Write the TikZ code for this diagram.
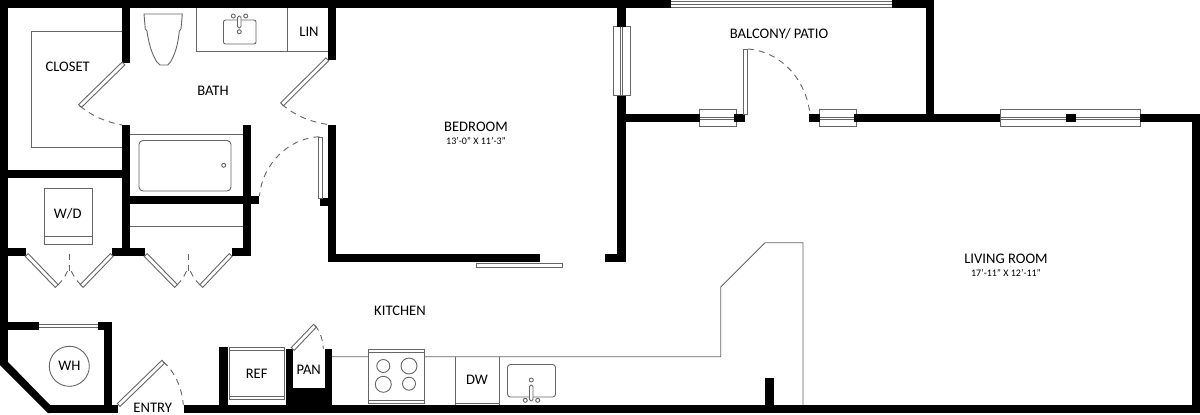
\documentclass[tikz,border=0pt]{standalone}
\usepackage{fontspec}
\usetikzlibrary{calc}
\setmainfont{Carlito}
\newcommand{\wl}[4]{\fill[black] (#1,#2) rectangle (#3,#4);}
\newcommand{\leaf}[4]{\draw[thin line,fill=white] ($(#1,#2)!2pt!90:(#3,#4)$) -- ($(#1,#2)!2pt!-90:(#3,#4)$) -- ($(#3,#4)!2pt!90:(#1,#2)$) -- ($(#3,#4)!2pt!-90:(#1,#2)$) -- cycle;}
\tikzset{
  thin line/.style={draw=linegray,line width=.9pt},
  swing/.style={draw=linegray,line width=.9pt,dash pattern=on 6pt off 5pt},
  lab/.style={font=\fontsize{14.6}{15}\selectfont,text=black,inner sep=0pt},
  dim/.style={font=\fontsize{10}{11}\selectfont,text=black,inner sep=0pt},
}
\definecolor{linegray}{gray}{0.40}
\begin{document}
\begin{tikzpicture}[x=1pt,y=-1pt]
\useasboundingbox (0,0) rectangle (1200,415);
\fill[white] (0,0) rectangle (1200,415);
% ---- thin fixtures ----
\draw[thin line] (122,31.5) -- (31.5,31.5) -- (31.5,147) -- (122,147);
\draw[thin line] (196.5,8) -- (196.5,51.5) -- (328,51.5) (287,8) -- (287,51.5);
\draw[thin line,rounded corners=2pt] (223.5,20) rectangle (256,44);
\draw[thin line,rounded corners=1.5pt,fill=white] (237.5,16) rectangle (241,28);
\draw[thin line] (233.3,16) circle (2) (245.7,16) circle (2) (239.3,31.7) circle (2);
% toilet
\draw[thin line] (144,14) -- (182.3,14) -- (181,29) -- (179.3,31) .. controls (178,45) and (175,54) .. (170.7,61.7) -- (167.7,65) -- (160,65) -- (156.7,61.7) .. controls (152,54) and (149,45) .. (147,31) -- (145.3,29) -- cycle;
% tub
\draw[thin line] (130,134) -- (243,134);
\draw[thin line,rounded corners=4pt] (139,140.5) rectangle (231,191);
\draw[thin line] (223.7,165.3) circle (2);
% closet shelf
\draw[thin line] (130,226.7) -- (243,226.7);
% W/D
\draw[thin line,line width=1pt] (44,188.5) rectangle (92,244.3) (44,236.7) -- (92,236.7);
% WH
\draw[thin line] (69.3,366.3) circle (20);
% WH window
\draw[thin line] (39,324.3) -- (98,324.3) (39,327.7) -- (98,327.7);
% REF
\draw[thin line] (229,347.3) rectangle (284,399.3) (229,350.7) -- (284,350.7) (229,396.7) -- (284,396.7);
% counter
\draw[thin line] (332,356.7) -- (720.7,356.7) -- (720.7,287) -- (765,242.7) -- (803,242.7) -- (803,405);
% range
\draw[thin line,fill=white] (368.5,349.5) rectangle (424,403);
\draw[thin line] (368.5,352) -- (424,352) (368.5,400.7) -- (424,400.7);
\draw[thin line] (383.3,366) circle (6.5) (409,366) circle (8) (383.3,384.3) circle (8) (409,383.7) circle (6.5);
% DW
\draw[thin line] (455.5,356.7) -- (455.5,405) (499.5,356.7) -- (499.5,405) (455.5,403.7) -- (499.5,403.7);
% kitchen sink
\draw[thin line,rounded corners=3pt] (507.5,364.5) rectangle (555.5,397);
\draw[thin line,rounded corners=1.5pt,fill=white] (529.5,385) rectangle (533,401);
\draw[thin line] (531.3,380) circle (2) (525.3,400.3) circle (2) (537.7,400.3) circle (2);
% ---- windows ----
\draw[thin line] (671,1) -- (892,1) (671,4) -- (892,4) (671,7) -- (892,7);
\draw[thin line] (613.5,26.5) rectangle (630.5,95.5) (620.5,26.5) -- (620.5,95.5) (622.5,26.5) -- (622.5,95.5);
\draw[thin line] (699.5,109.5) rectangle (736,126) (699.5,117) -- (736,117) (699.5,119.5) -- (736,119.5);
\draw[thin line] (819,109.5) rectangle (856,126) (819,117) -- (856,117) (819,119.5) -- (856,119.5);
\draw[thin line] (1000,109.5) rectangle (1140,126) (1000,117) -- (1140,117) (1000,119.5) -- (1140,119.5);
\draw[thin line] (476.5,263.5) rectangle (562.5,267.5);
% ---- walls ----
\wl{0}{0}{670.5}{8}
\wl{892}{0}{934}{8}
\wl{0}{0}{8}{365}
\fill[black] (0,365) -- (8,362) -- (50,405) -- (50,413) -- (48,413) -- cycle;
\wl{48}{405}{118}{413}
\wl{184}{405}{1200}{413}
\wl{122}{8}{130}{63}
\wl{122}{125}{130}{256}
\wl{8}{170}{122}{178}
\wl{242.5}{125}{251}{256}
\wl{232}{248}{251}{256}
\wl{130}{196}{259}{204}
\wl{328}{8}{336}{60}
\wl{328}{125}{336}{261.5}
\wl{320}{198}{328}{206}
\wl{328}{253.5}{540}{261.5}
\wl{617}{8}{626}{26.5}
\wl{617}{95.5}{626}{261.5}
\wl{605}{253.5}{626}{261.5}
\wl{626}{114}{700}{122}
\wl{734}{114}{745}{122}
\wl{809}{114}{820}{122}
\wl{854}{114}{1000}{122}
\wl{1066}{114}{1075.5}{122}
\wl{1140}{114}{1200}{122}
\wl{926}{8}{934}{114}
\wl{1192}{114}{1200}{413}
\wl{8}{248}{26}{256}
\wl{112}{248}{145}{256}
\wl{8}{322}{39}{330}
\wl{98}{322}{112}{330}
\wl{104}{322}{112}{405}
\wl{219}{346.5}{228}{405}
\wl{286}{349}{293}{405}
\wl{325}{349}{332}{405}
\wl{293}{388}{325}{405}
\wl{765}{378}{774}{405}
% ---- door leaves ----
\leaf{123.5}{63.5}{80}{106}
\leaf{327.3}{59.3}{282}{104.3}
\leaf{320}{137}{320}{198}
\leaf{745.5}{49}{745.5}{114}
\leaf{118.7}{405}{163.3}{361.7}
\leaf{292.7}{349}{315}{325.7}
\leaf{26.7}{255}{56.7}{286}
\leaf{111.7}{255}{81.7}{286}
\leaf{145.7}{255}{176}{286}
\leaf{230.7}{255}{201.3}{286}
% ---- door swings ----
\draw[swing] (80,106) .. controls (92,116) and (106,122) .. (122,125);
\draw[swing] (282,104.3) .. controls (294,115) and (310,122) .. (328,124.5);
\draw[swing] (319.3,136.7) .. controls (288,138) and (262,165) .. (259.5,196);
\draw[swing] (748,49) .. controls (782,52) and (806,80) .. (810,114);
\draw[swing] (163.3,361.7) .. controls (175,372) and (182,388) .. (183.3,405);
\draw[swing] (315,325.7) .. controls (320,331) and (323,340) .. (323.3,349);
\draw[swing] (69.3,253.5) -- (69.3,271.5);
\draw[swing] (58,285) .. controls (63,280) and (67,274) .. (69.3,266);
\draw[swing] (81,285) .. controls (76,280) and (72,274) .. (69.3,266);
\draw[swing] (188.3,253.5) -- (188.3,271.5);
\draw[swing] (177,285) .. controls (182,280) and (186,274) .. (188.3,266);
\draw[swing] (200,285) .. controls (195,280) and (191,274) .. (188.3,266);
% ---- labels ----
\node[lab] (closet) at (67.7,66.7) {CLOSET};
\node[lab] (bath) at (213,91) {BATH};
\node[lab] (lin) at (309,32) {LIN};
\node[lab] (bedroom) at (476,127) {BEDROOM};
\node[dim] (beddim) at (476,141) {13'-0" X 11'-3"};
\node[lab] (balcony) at (779,34) {BALCONY/ PATIO};
\node[lab] (living) at (1006,259) {LIVING ROOM};
\node[dim] (livdim) at (1006,273) {17'-11" X 12'-11"};
\node[lab] (wd) at (67.7,214) {W/D};
\node[lab] (kitchen) at (400,311) {KITCHEN};
\node[lab] (wh) at (69.3,366) {WH};
\node[lab] (ref) at (256.7,374) {REF};
\node[lab] (pan) at (308.7,370) {PAN};
\node[lab] (dw) at (477,380) {DW};
\node[lab] (entry) at (152.7,408) {ENTRY};
\end{tikzpicture}
\end{document}
